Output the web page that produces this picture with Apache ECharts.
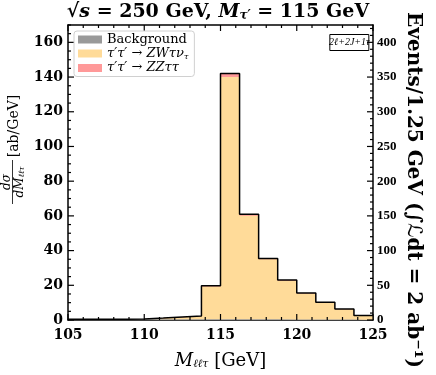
<!DOCTYPE html>
<html>
<head>
<meta charset="utf-8">
<script src="https://cdn.jsdelivr.net/npm/echarts@6/dist/echarts.min.js"></script>
<style>
  html, body { margin: 0; padding: 0; background: #fff; }
  #main { width: 436px; height: 375px; }
</style>
</head>
<body>
<div id="main"></div>
<script>
  // bins of 1.25 GeV, low edges
  var binLow = [105, 106.25, 107.5, 108.75, 110, 111.25, 112.5, 113.75, 115, 116.25, 117.5, 118.75, 120, 121.25, 122.5, 123.75];
  var binHigh = 125;
  // d sigma / dM  [ab/GeV]
  var bkg = [0.4, 0.5, 0.5, 0.6, 0.5, 0.5, 0.5, 0.4, 0.4, 0.4, 0.4, 0.3, 0.3, 0.3, 0.3, 0.3];
  var zw  = [0, 0, 0, 0, 0.5, 1.1, 1.7, 18.9, 139.6, 59.7, 34.6, 22.3, 14.9, 9.7, 5.9, 2.2];
  var zz  = [0, 0, 0, 0, 0.1, 0.1, 0.1, 0.4, 2.0, 0.9, 0.5, 0.4, 0.3, 0.2, 0.2, 0.1];

  // axis ranges; right axis = events per bin for 2 ab^-1  (x 2.5)
  var xMin = 105, xMax = 125, xStep = 5, xMinorStep = 1;
  var yMax = 170, yStep = 20, yMinorStep = 5;
  var evScale = 2.5, evStep = 50, evMinorStep = 10;

  var serif = '"DejaVu Serif", "Liberation Serif", serif';

  // histogram as step line: one point per low edge + closing point
  function steps(vals) {
    var d = binLow.map(function (x, i) { return [x, vals[i]]; });
    d.push([binHigh, vals[vals.length - 1]]);
    return d;
  }
  // stacked levels (top level drawn first, lower levels painted over it)
  var lvlBkg = bkg.slice();
  var lvlZW = bkg.map(function (v, i) { return v + zw[i]; });
  var total = lvlZW.map(function (v, i) { return v + zz[i]; });

  function histo(name, vals, color) {
    return {
      name: name, type: 'line', step: 'end',
      symbol: 'none', silent: true,
      data: steps(vals),
      lineStyle: { width: 0 },
      itemStyle: { color: color },
      areaStyle: { color: color, opacity: 1 }
    };
  }

  // inward ticks as thin rect symbols sitting on the frame, shifted inside
  function tickPt(x, y, len, horiz, sign) {
    return horiz
      ? { value: [x, y], symbolSize: [len, 1.2], symbolOffset: [sign * len / 2, 0] }
      : { value: [x, y], symbolSize: [1.2, len], symbolOffset: [0, sign * len / 2] };
  }
  var tickData = [];
  for (var v = xMin; v <= xMax; v += xMinorStep) {
    var len = (v - xMin) % xStep === 0 ? 6 : 3;
    tickData.push(tickPt(v, 0, len, false, -1), tickPt(v, yMax, len, false, 1));
  }
  for (var v = 0; v <= yMax; v += yMinorStep) {
    tickData.push(tickPt(xMin, v, v % yStep === 0 ? 6 : 3, true, 1));
  }
  for (var v = 0; v <= yMax * evScale; v += evMinorStep) {
    tickData.push(tickPt(xMax, v / evScale, v % evStep === 0 ? 6 : 3, true, -1));
  }

  var legendText = {
    'Background': '{r|Background}',
    'ZW': '{i|τ′τ′ → ZWτν}{s|τ}',
    'ZZ': '{i|τ′τ′ → ZZττ}'
  };

  function axisCommon() {
    return {
      axisLine: { show: true, onZero: false, lineStyle: { color: '#000', width: 1.5 } },
      axisTick: { show: false },
      splitLine: { show: false }
    };
  }

  var x0 = Object.assign(axisCommon(), {
    type: 'value', position: 'bottom', min: xMin, max: xMax, interval: xStep,
    axisLabel: { color: '#000', fontFamily: serif, fontWeight: 'bold', fontSize: 14, margin: 8 },
    name: '{i|M}{s|ℓℓτ}{r| [GeV]}', nameLocation: 'middle', nameGap: 30,
    nameTextStyle: {
      rich: {
        i: { fontFamily: serif, fontStyle: 'italic', fontSize: 18, color: '#000', lineHeight: 20, verticalAlign: 'bottom' },
        s: { fontFamily: serif, fontStyle: 'italic', fontSize: 11, color: '#000', lineHeight: 14, verticalAlign: 'bottom' },
        r: { fontFamily: serif, fontSize: 18, color: '#000', lineHeight: 20, verticalAlign: 'bottom' }
      }
    }
  });
  var x1 = Object.assign(axisCommon(), {
    type: 'value', position: 'top', min: xMin, max: xMax, interval: xStep,
    axisLabel: { show: false }
  });
  var y0 = Object.assign(axisCommon(), {
    type: 'value', position: 'left', min: 0, max: yMax, interval: yStep,
    axisLabel: { color: '#000', fontFamily: serif, fontWeight: 'bold', fontSize: 14, margin: 5, showMaxLabel: false }
  });
  var y1 = Object.assign(axisCommon(), {
    type: 'value', position: 'right', min: 0, max: yMax * evScale, interval: evStep,
    axisLabel: { color: '#000', fontFamily: '"Liberation Serif", serif', fontWeight: 'bold', fontSize: 13, margin: 4, showMaxLabel: false }
  });

  var chart = echarts.init(document.getElementById('main'), null, { renderer: 'canvas' });
  chart.setOption({
    animation: false,
    backgroundColor: '#fff',
    title: {
      text: '{r|√}{i|s}{r| = 250 GeV, }{i|M}{s|τ′}{r| = 115 GeV}',
      left: 'center', top: 0, padding: 0,
      textStyle: {
        rich: {
          r: { fontFamily: serif, fontWeight: 'bold', fontSize: 19, color: '#000', lineHeight: 22, verticalAlign: 'bottom' },
          i: { fontFamily: serif, fontStyle: 'italic', fontWeight: 'bold', fontSize: 19, color: '#000', lineHeight: 22, verticalAlign: 'bottom' },
          s: { fontFamily: serif, fontStyle: 'italic', fontSize: 12, color: '#000', lineHeight: 16, verticalAlign: 'bottom' }
        }
      }
    },
    grid: { left: 68, right: 63, top: 25, bottom: 51 },
    legend: {
      orient: 'vertical', left: 74, top: 31, z: 20,
      data: ['Background', 'ZW', 'ZZ'],
      icon: 'rect', itemWidth: 24, itemHeight: 8, itemGap: 1,
      padding: [2, 6, 2, 4],
      backgroundColor: '#fff', borderColor: '#d0d0d0', borderWidth: 1, borderRadius: 3,
      formatter: function (name) { return legendText[name]; },
      textStyle: {
        rich: {
          r: { fontFamily: serif, fontSize: 13, color: '#000', lineHeight: 14 },
          i: { fontFamily: serif, fontStyle: 'italic', fontSize: 13, color: '#000', lineHeight: 14 },
          s: { fontFamily: serif, fontStyle: 'italic', fontSize: 8, color: '#000', verticalAlign: 'bottom', lineHeight: 10 }
        }
      }
    },
    xAxis: [x0, x1],
    yAxis: [y0, y1],
    series: [
      histo('ZZ', total, '#FF9999'),
      histo('ZW', lvlZW, '#FFDB99'),
      histo('Background', lvlBkg, '#999999'),
      {
        name: 'total', type: 'line', step: 'end', symbol: 'none', silent: true,
        data: steps(total), z: 5,
        lineStyle: { color: '#000', width: 1.5 }
      },
      {
        name: 'ticks', type: 'scatter', symbol: 'rect', silent: true, clip: false, z: 6,
        itemStyle: { color: '#000', opacity: 1 },
        emphasis: { disabled: true },
        data: tickData
      }
    ],
    graphic: [
      {
        type: 'group', x: 14, y: 152, rotation: Math.PI / 2,
        children: [
          { type: 'text', x: 26, y: 0, style: { text: '[ab/GeV]', font: '14px ' + serif, align: 'center', verticalAlign: 'middle', fill: '#000' } },
          { type: 'text', x: -30, y: -7, style: { text: 'dσ', font: 'italic 12px ' + serif, align: 'center', verticalAlign: 'middle', fill: '#000' } },
          { type: 'line', shape: { x1: -52, y1: -1.5, x2: -8, y2: -1.5 }, style: { stroke: '#000', lineWidth: 0.8 } },
          {
            type: 'text', x: -30, y: 5,
            style: {
              text: '{i|dM}{s|ℓℓτ}', align: 'center', verticalAlign: 'middle', fill: '#000',
              rich: {
                i: { font: 'italic 12px ' + serif, verticalAlign: 'bottom', lineHeight: 13 },
                s: { font: 'italic 8px ' + serif, verticalAlign: 'bottom', lineHeight: 10 }
              }
            }
          }
        ]
      },
      {
        type: 'text', x: 413, y: 190, rotation: -Math.PI / 2,
        style: {
          text: 'Events/1.25 GeV (∫{l|ℒ}dt = 2 ab⁻¹)', align: 'center', verticalAlign: 'middle',
          font: 'bold 20px ' + serif, fill: '#000',
          rich: { l: { font: 'italic 20px "DejaVu Sans", sans-serif', fill: '#000' } }
        }
      },
      {
        type: 'group', left: 329, top: 34,
        children: [
          { type: 'rect', shape: { x: 0, y: 0, width: 39, height: 16 }, style: { fill: '#fff', stroke: '#000', lineWidth: 1 } },
          { type: 'text', x: 19.5, y: 8, style: { text: '2ℓ+2J+1τ', font: 'italic 10px "Liberation Serif", serif', align: 'center', verticalAlign: 'middle', fill: '#000' } }
        ]
      }
    ]
  });
</script>
</body>
</html>
